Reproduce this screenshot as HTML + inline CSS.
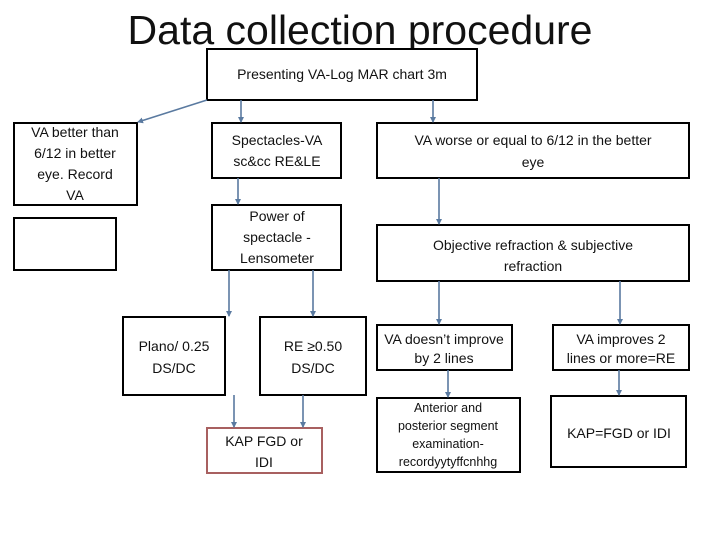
<!DOCTYPE html>
<html><head><meta charset="utf-8"><style>
html,body{margin:0;padding:0;background:#fff;}
svg{display:block;}
text{font-family:"Liberation Sans",sans-serif;fill:#111;}
</style></head><body>
<svg width="720" height="540" viewBox="0 0 720 540" xmlns="http://www.w3.org/2000/svg">
<defs><marker id="a" markerWidth="6" markerHeight="6" refX="5" refY="3" orient="auto" markerUnits="userSpaceOnUse"><path d="M0,0 L6,3 L0,6 z" fill="#5a7aa0"/></marker></defs>
<text x="360" y="44" font-size="41" text-anchor="middle">Data collection procedure</text>
<g fill="#fff" stroke="#000" stroke-width="2">
<rect x="207" y="49" width="270" height="51"/>
<rect x="14" y="123" width="123" height="82"/>
<rect x="14" y="218" width="102" height="52"/>
<rect x="212" y="123" width="129" height="55"/>
<rect x="212" y="205" width="129" height="65"/>
<rect x="377" y="123" width="312" height="55"/>
<rect x="377" y="225" width="312" height="56"/>
<rect x="123" y="317" width="102" height="78"/>
<rect x="260" y="317" width="106" height="78"/>
<rect x="377" y="325" width="135" height="45"/>
<rect x="553" y="325" width="136" height="45"/>
<rect x="377" y="398" width="143" height="74"/>
<rect x="551" y="396" width="135" height="71"/>
<rect x="207" y="428" width="115" height="45" stroke="#a86060"/>
</g>
<g stroke="#5a7aa0" stroke-width="1.6" marker-end="url(#a)">
<line x1="207" y1="100" x2="138" y2="122"/>
<line x1="241" y1="100" x2="241" y2="122"/>
<line x1="433" y1="100" x2="433" y2="122"/>
<line x1="238" y1="178" x2="238" y2="204"/>
<line x1="229" y1="270" x2="229" y2="316"/>
<line x1="313" y1="270" x2="313" y2="316"/>
<line x1="234" y1="395" x2="234" y2="427"/>
<line x1="303" y1="395" x2="303" y2="427"/>
<line x1="439" y1="178" x2="439" y2="224"/>
<line x1="439" y1="281" x2="439" y2="324"/>
<line x1="620" y1="281" x2="620" y2="324"/>
<line x1="448" y1="370" x2="448" y2="397"/>
<line x1="619" y1="370" x2="619" y2="395"/>
</g>
<g font-size="14" text-anchor="middle">
<text x="342" y="79">Presenting VA-Log MAR chart 3m</text>
<text x="75" y="137">VA better than</text>
<text x="75" y="158">6/12 in better</text>
<text x="75" y="179">eye. Record</text>
<text x="75" y="200">VA</text>
<text x="277" y="145">Spectacles-VA</text>
<text x="277" y="166">sc&amp;cc RE&amp;LE</text>
<text x="277" y="221">Power of</text>
<text x="277" y="242">spectacle -</text>
<text x="277" y="263">Lensometer</text>
<text x="533" y="145">VA worse or equal to 6/12 in the better</text>
<text x="533" y="167">eye</text>
<text x="533" y="250">Objective refraction &amp; subjective</text>
<text x="533" y="271">refraction</text>
<text x="174" y="351">Plano/ 0.25</text>
<text x="174" y="373">DS/DC</text>
<text x="313" y="351">RE ≥0.50</text>
<text x="313" y="373">DS/DC</text>
<text x="264" y="446">KAP FGD or</text>
<text x="264" y="467">IDI</text>
<text x="444" y="344">VA doesn’t improve</text>
<text x="444" y="363">by 2 lines</text>
<text x="621" y="344">VA improves 2</text>
<text x="621" y="363">lines or more=RE</text>
<text x="448" y="412" font-size="12.5">Anterior and</text>
<text x="448" y="430" font-size="12.5">posterior segment</text>
<text x="448" y="448" font-size="12.5">examination-</text>
<text x="448" y="466" font-size="12.5">recordyytyffcnhhg</text>
<text x="619" y="438">KAP=FGD or IDI</text>
</g>
</svg>
</body></html>
